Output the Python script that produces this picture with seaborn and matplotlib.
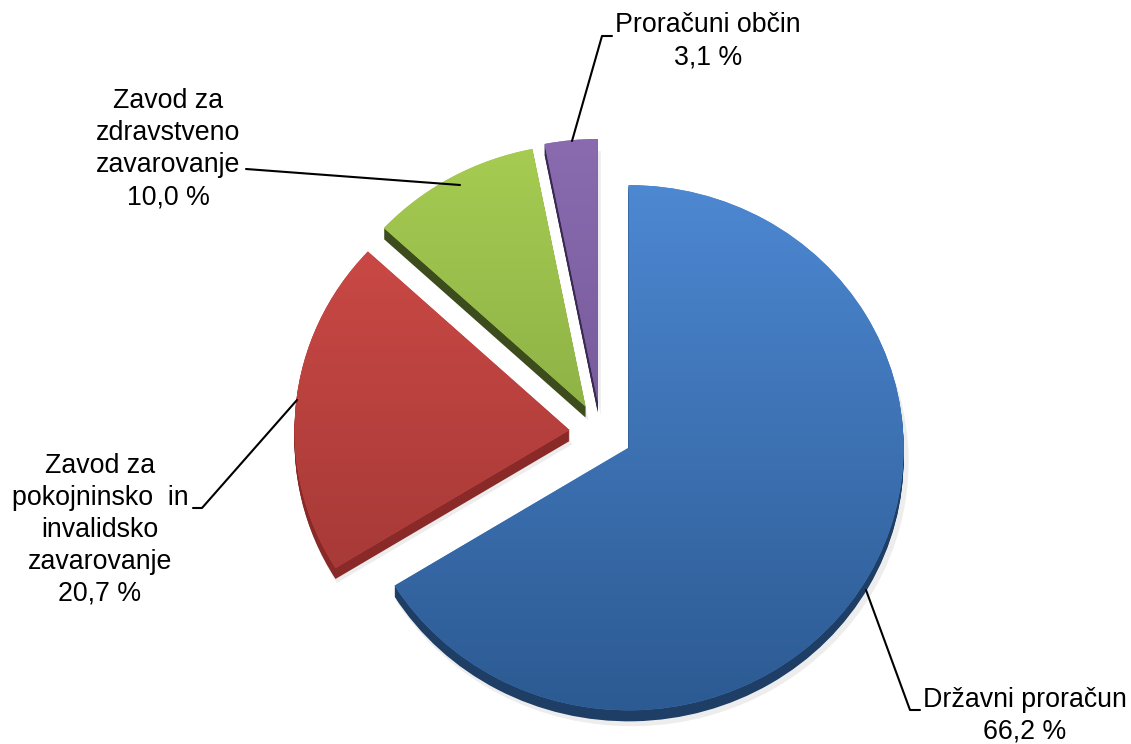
import numpy as np
import matplotlib.pyplot as plt
import seaborn as sns
from matplotlib.patches import Wedge
from matplotlib.colors import LinearSegmentedColormap

# data
labels = ["Državni proračun", "Zavod za\npokojninsko  in\ninvalidsko\nzavarovanje",
          "Zavod za\nzdravstveno\nzavarovanje", "Proračuni občin"]
shares = [66.2, 20.7, 10.0, 3.1]
pct_txt = ["66,2 %", "20,7 %", "10,0 %", "3,1 %"]
explode = [0.115, 0.115, 0.115, 0.12]

# colours: top face light/dark, side
light = ["#4d88d2", "#d24c48", "#a6cc52", "#8a6bb0"]
dark = ["#2c5a92", "#9a3432", "#789a3a", "#664c8a"]
side = ["#1f3e66", "#8a2a28", "#3d4c1c", "#3a2a52"]

sns.set_theme(style="white")
plt.rcParams['font.family'] = ['Liberation Sans', 'DejaVu Sans']

W, H = 1131, 744
K = 0.955  # vertical squash -> tilted look


def Y(yp):
    return (H - yp) / K


fig = plt.figure(figsize=(W / 100, H / 100), dpi=100)
ax = fig.add_axes([0, 0, 1, 1])

R = 275
wedges, _ = ax.pie(shares, colors=light, startangle=90, counterclock=False,
                   explode=[e * R for e in explode], radius=R,
                   center=(601, Y(433)),
                   wedgeprops=dict(linewidth=0, zorder=3))
ax.set_aspect('auto')
ax.axis('off')

depth = 11
for i, w in enumerate(wedges):
    cx, cy = w.center
    r = w.r
    # soft shadow
    ax.add_patch(Wedge((cx + 3, cy - 14 / K), r + 2, w.theta1, w.theta2,
                       color="#e2e2e2", lw=0, zorder=1, alpha=0.6))
    # extruded side
    for d in range(depth, 0, -1):
        ax.add_patch(Wedge((cx, cy - d / K), r, w.theta1, w.theta2,
                           color=side[i], lw=0, zorder=2))
    # gradient on top face
    cmap = LinearSegmentedColormap.from_list("g%d" % i, [dark[i], light[i]])
    grad = np.linspace(0, 1, 256).reshape(-1, 1)
    im = ax.imshow(grad, cmap=cmap, origin='lower', aspect='auto',
                   extent=(cx - r, cx + r, cy - r, cy + r), zorder=4)
    im.set_clip_path(w)

ax.set_xlim(0, W)
ax.set_ylim(0, H / K)

fs = 19.3
tk = dict(ha='center', va='center', fontsize=fs, linespacing=1.3, color='black')
ax.text(1025, Y(716), labels[0] + "\n" + pct_txt[0], **tk)
ax.text(100, Y(530), labels[1] + "\n" + pct_txt[1], **tk)
ax.text(168, Y(149), labels[2] + "\n" + pct_txt[2], **tk)
ax.text(708, Y(41), labels[3] + "\n" + pct_txt[3], **tk)

# leader lines
lk = dict(color='black', lw=1.5, zorder=6)
ax.plot([866, 910, 920], [Y(590), Y(710), Y(710)], **lk)
ax.plot([193, 202, 297], [Y(508), Y(508), Y(400)], **lk)
ax.plot([246, 460], [Y(169), Y(185)], **lk)
ax.plot([572, 602, 612], [Y(141), Y(36), Y(36)], **lk)

fig.savefig("out.png", dpi=100)
